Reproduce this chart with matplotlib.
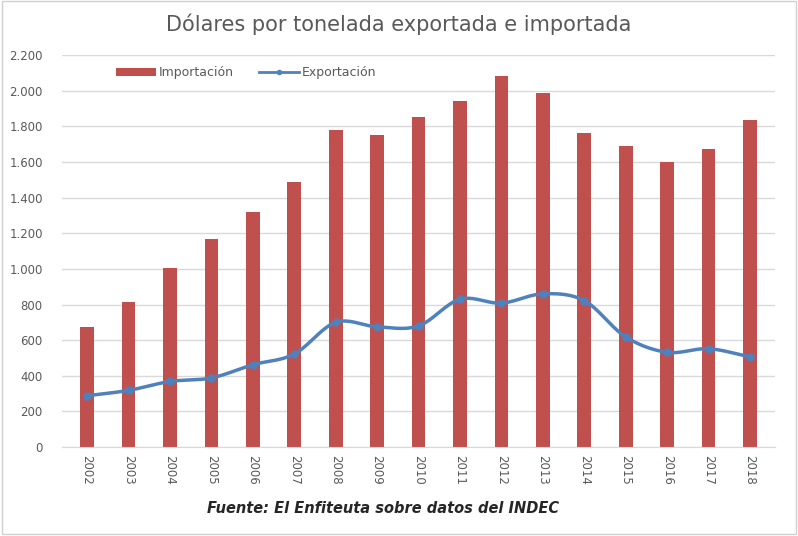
import matplotlib.pyplot as plt
import numpy as np
from matplotlib.ticker import FuncFormatter

# datos
anios = ['2002', '2003', '2004', '2005', '2006', '2007', '2008', '2009', '2010',
         '2011', '2012', '2013', '2014', '2015', '2016', '2017', '2018']
importacion = [672, 812, 1008, 1170, 1318, 1487, 1778, 1752, 1855,
               1945, 2085, 1985, 1765, 1688, 1598, 1672, 1835]
exportacion = [288, 318, 368, 388, 462, 522, 700, 675, 680,
               830, 808, 860, 822, 618, 532, 552, 506]

rojo = '#C0504D'
azul = '#4F81BD'
gris = '#595959'


def suavizar(x, y, n=20):
    # curva tipo excel (catmull-rom) que pasa por los puntos
    x = np.asarray(x, float)
    y = np.asarray(y, float)
    px = np.concatenate([[2 * x[0] - x[1]], x, [2 * x[-1] - x[-2]]])
    py = np.concatenate([[2 * y[0] - y[1]], y, [2 * y[-1] - y[-2]]])
    xs, ys = [], []
    for i in range(1, len(px) - 2):
        t = np.linspace(0, 1, n, endpoint=False)
        for p, out in ((px, xs), (py, ys)):
            p0, p1, p2, p3 = p[i - 1], p[i], p[i + 1], p[i + 2]
            out.extend(0.5 * (2 * p1 + (-p0 + p2) * t
                              + (2 * p0 - 5 * p1 + 4 * p2 - p3) * t ** 2
                              + (-p0 + 3 * p1 - 3 * p2 + p3) * t ** 3))
    xs.append(x[-1])
    ys.append(y[-1])
    return xs, ys


fig = plt.figure(figsize=(7.98, 5.36), dpi=100)
ax = fig.add_axes([0.078, 0.166, 0.893, 0.731])

x = np.arange(len(anios))
barras = ax.bar(x, importacion, width=0.33, color=rojo, zorder=2, label='Importación')
sx, sy = suavizar(x, exportacion)
ax.plot(sx, sy, color=azul, lw=2.5, zorder=3)
ax.plot(x, exportacion, 'o', color=azul, ms=5, zorder=4)
linea, = ax.plot([], [], color=azul, lw=2, marker='o', ms=3, label='Exportación')

ax.set_xlim(-0.6, len(anios) - 0.4)
ax.set_ylim(0, 2200)
ax.set_yticks(range(0, 2201, 200))
ax.yaxis.set_major_formatter(FuncFormatter(lambda v, p: f'{int(v):,}'.replace(',', '.')))
ax.set_xticks(x)
ax.set_xticklabels(anios, rotation=-90, fontsize=8.5, color=gris)
ax.tick_params(axis='y', labelsize=8.5, labelcolor=gris, length=0, pad=14)
ax.tick_params(axis='x', length=0, pad=6)
ax.grid(axis='y', color='#D9D9D9', lw=1, zorder=0)
for s in ['top', 'right', 'left']:
    ax.spines[s].set_visible(False)
ax.spines['bottom'].set_color('#D9D9D9')

ax.legend([barras, linea], ['Importación', 'Exportación'],
          loc='upper left', bbox_to_anchor=(0.06, 1.0), ncol=2, frameon=False,
          fontsize=9, labelcolor=gris, handlelength=3.2, handleheight=0.6,
          columnspacing=2.0, handletextpad=0.2)

fig.text(0.5, 0.955, 'Dólares por tonelada exportada e importada',
         ha='center', va='center', fontsize=15, color=gris)
fig.text(0.48, 0.052, 'Fuente: El Enfiteuta sobre datos del INDEC',
         ha='center', va='center', fontsize=10.5, fontweight='bold',
         fontstyle='italic', color='#262626')

fig.patches.append(plt.Rectangle((0.002, 0.004), 0.996, 0.994, fill=False,
                                 ec='#D0D0D0', lw=1, transform=fig.transFigure))

plt.savefig('out.png')
plt.close()
